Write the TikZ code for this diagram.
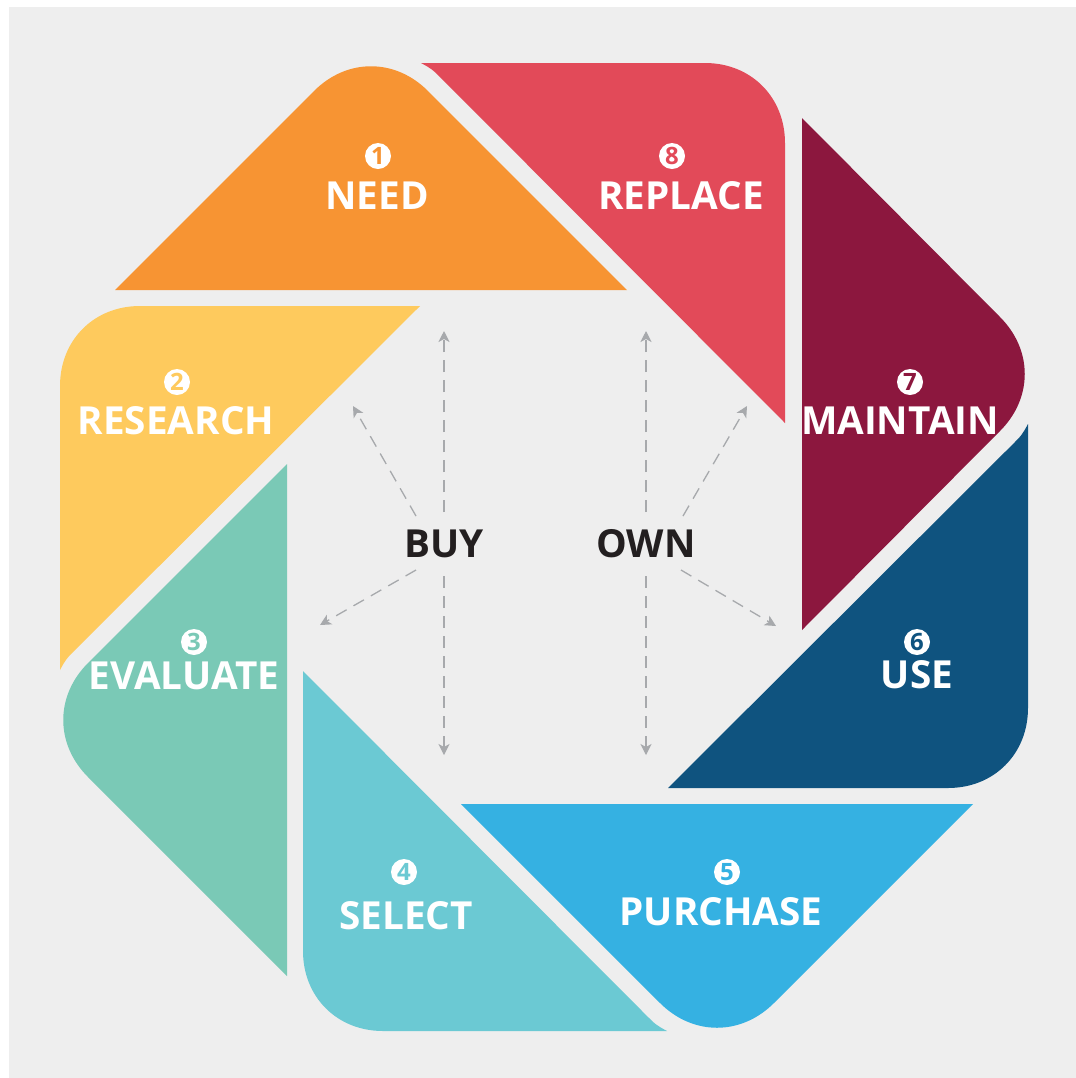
\documentclass[tikz,border=0pt]{standalone}
\usepackage{fontspec}
\setmainfont{Open Sans}
\usepackage{tikz}
\usetikzlibrary{arrows.meta}

\definecolor{bggray}{HTML}{EEEEEE}
\definecolor{needorange}{HTML}{F79433}
\definecolor{replacered}{HTML}{E24A59}
\definecolor{maintainred}{HTML}{8C173E}
\definecolor{useblue}{HTML}{0F537F}
\definecolor{purchaseblue}{HTML}{35B1E2}
\definecolor{selectteal}{HTML}{6BC9D3}
\definecolor{evaluatemint}{HTML}{7AC9B6}
\definecolor{researchyellow}{HTML}{FECA5D}
\definecolor{arrowgray}{HTML}{A7A9AC}
\definecolor{labeldark}{HTML}{231F20}

\newcommand{\stagefont}{\fontsize{11}{13}\selectfont\bfseries}
\newcommand{\badgefont}{\fontsize{6.8}{7}\selectfont\bfseries}

\begin{document}
\begin{tikzpicture}[
		x=0.1mm, y=-0.1mm,
		% Style des pales de l'octogone
		blade/.style={
			fill=#1,
			draw=none
		},
		% Style des noms d'étapes
		stagelabel/.style={
			text=white,
			font=\stagefont,
			inner sep=0pt
		},
		% Style des pastilles numérotées
		badge/.style={
			circle,
			fill=white,
			text=#1,
			font=\badgefont,
			minimum size=2.6mm,
			inner sep=0pt
		},
		% Style des phases au centre
		phaselabel/.style={
			text=labeldark,
			font=\stagefont,
			inner sep=0pt
		},
		% Style des flèches pointillées
		dasharrow/.style={
			-{Stealth[length=1.1mm,width=1.1mm,inset=0.3mm]},
			arrowgray,
			line width=0.13mm,
			dash pattern=on 1.2mm off 0.8mm
		}
		]
		% --- FOND ---
		\useasboundingbox (0,0) rectangle (1076,1078);
		\fill[white] (0,0) rectangle (1076,1078);
		\fill[bggray] (9,7) rectangle (1076,1078);
		
		% --- PALES ---
		% Triangles à sommet arrondi
		\fill[blade=needorange] (115,290) -- (314,91) .. controls (347,58) and (395,58) .. (428,91) -- (627,290) -- cycle;
		\fill[blade=maintainred] (802,118) -- (1000,317) .. controls (1033,350) and (1033,398) .. (1000,431) -- (802,630) -- cycle;
		\fill[blade=purchaseblue] (973,804) -- (774,1003) .. controls (741,1036) and (693,1036) .. (660,1003) -- (461,804) -- cycle;
		\fill[blade=evaluatemint] (287,976) -- (88,777) .. controls (55,744) and (55,696) .. (88,663) -- (287,464) -- cycle;
		
		% Triangles à angle droit arrondi
		\fill[blade=replacered] (421,63) -- (705,63) .. controls (751,63) and (785,97) .. (785,143) -- (785,423) -- (443,80) .. controls (432,69) .. (421,63) -- cycle;
		\fill[blade=useblue] (1028,424) -- (1028,708) .. controls (1028,754) and (994,788) .. (948,788) -- (668,788) -- (1011,446) .. controls (1022,435) .. (1028,424) -- cycle;
		\fill[blade=selectteal] (667,1031) -- (383,1031) .. controls (337,1031) and (303,997) .. (303,951) -- (303,671) -- (645,1014) .. controls (656,1025) .. (667,1031) -- cycle;
		\fill[blade=researchyellow] (60,670) -- (60,386) .. controls (60,340) and (94,306) .. (140,306) -- (420,306) -- (77,648) .. controls (66,659) .. (60,670) -- cycle;
		
		% --- ÉTAPES ---
		\node[stagelabel] (need) at (377,196) {NEED};
		\node[badge=needorange] (neednum) at (378,156) {1};
		
		\node[stagelabel] (research) at (176,421) {RESEARCH};
		\node[badge=researchyellow] (researchnum) at (177,382) {2};
		
		\node[stagelabel] (evaluate) at (184,676) {EVALUATE};
		\node[badge=evaluatemint] (evaluatenum) at (194,642) {3};
		
		\node[stagelabel] (select) at (406,916) {SELECT};
		\node[badge=selectteal] (selectnum) at (404,872) {4};
		
		\node[stagelabel] (purchase) at (721,912) {PURCHASE};
		\node[badge=purchaseblue] (purchasenum) at (727,872) {5};
		
		\node[stagelabel] (use) at (917,675) {USE};
		\node[badge=useblue] (usenum) at (917,642) {6};
		
		\node[stagelabel] (maintain) at (900,421) {MAINTAIN};
		\node[badge=maintainred] (maintainnum) at (910,382) {7};
		
		\node[stagelabel] (replace) at (681,196) {REPLACE};
		\node[badge=replacered] (replacenum) at (672,156) {8};
		
		% --- PHASES ---
		\node[phaselabel] (buy) at (444,544) {BUY};
		\node[phaselabel] (own) at (646,544) {OWN};
		
		% --- EXTRÉMITÉS DES FLÈCHES ---
		\coordinate (buyup0) at (444,512);   \coordinate (buyup) at (444,331);
		\coordinate (buydown0) at (444,576); \coordinate (buydown) at (444,755);
		\coordinate (buyul0) at (416,516);   \coordinate (buyul) at (353,406);
		\coordinate (buydl0) at (416,570);   \coordinate (buydl) at (320,625);
		
		\coordinate (ownup0) at (646,512);   \coordinate (ownup) at (646,331);
		\coordinate (owndown0) at (646,576); \coordinate (owndown) at (646,755);
		\coordinate (ownur0) at (683,516);   \coordinate (ownur) at (747,406);
		\coordinate (owndr0) at (681,570);   \coordinate (owndr) at (776,626);
		
		% --- FLÈCHES ---
		\draw[dasharrow] (buyup0) -- (buyup);
		\draw[dasharrow] (buydown0) -- (buydown);
		\draw[dasharrow] (buyul0) -- (buyul);
		\draw[dasharrow] (buydl0) -- (buydl);
		
		\draw[dasharrow] (ownup0) -- (ownup);
		\draw[dasharrow] (owndown0) -- (owndown);
		\draw[dasharrow] (ownur0) -- (ownur);
		\draw[dasharrow] (owndr0) -- (owndr);
		
	\end{tikzpicture}
\end{document}
